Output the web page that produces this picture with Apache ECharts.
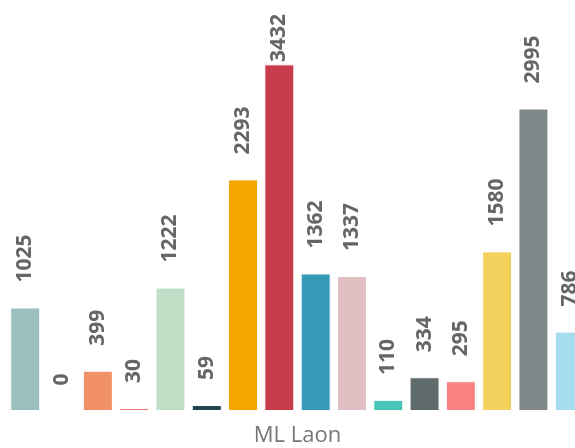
<!DOCTYPE html>
<html>
<head>
<meta charset="utf-8">
<script src="https://cdn.jsdelivr.net/npm/echarts@6/dist/echarts.min.js"></script>
<style>
html,body{margin:0;padding:0;background:#fff;}
#chart{width:575px;height:448px;}
</style>
</head>
<body>
<div id="chart"></div>
<script>
var categories = ['ML Laon'];
var seriesNames = ['S1','S2','S3','S4','S5','S6','S7','S8','S9','S10','S11','S12','S13','S14','S15','S16'];
var seriesValues = [1025, 0, 399, 30, 1222, 59, 2293, 3432, 1362, 1337, 110, 334, 295, 1580, 2995, 786];
var palette = ['#9bbfbf','#8fb8c8','#f29068','#f07878','#bfdfc7','#1f4650','#f5a500','#c93c4c','#369ab8','#e0bfc2','#48c5b8','#5f6a6a','#fc8181','#f4d05c','#808889','#a7dcee'];

var chart = echarts.init(document.getElementById('chart'));
var series = seriesValues.map(function (v, i) {
  return {
    name: seriesNames[i],
    type: 'bar',
    data: [v],
    barWidth: 30,
    barGap: '21%',
    itemStyle: { color: palette[i], borderColor: '#ffffff', borderWidth: 1 },
    label: {
      show: true,
      position: 'top',
      rotate: 90,
      align: 'left',
      verticalAlign: 'middle',
      distance: 25,
      fontFamily: 'Open Sans',
      fontSize: 21,
      fontWeight: 'bold',
      color: '#666666',
      textBorderColor: '#ffffff',
      textBorderWidth: 2
    },
    labelLayout: function (p) {
      var r = p.labelRect;
      if (r.y < 12) {
        return { y: 12 + r.height };
      }
      return {};
    }
  };
});
chart.setOption({
  animation: false,
  grid: { left: 0, width: 595, top: 7, bottom: 37, outerBoundsMode: 'none', containLabel: false },
  xAxis: {
    type: 'category',
    data: categories,
    axisLine: { show: false },
    axisTick: { show: false },
    axisLabel: { margin: 14, fontFamily: 'Open Sans', fontSize: 22, color: '#777777' }
  },
  yAxis: {
    type: 'value',
    min: 0,
    max: 4000,
    show: false,
    splitLine: { show: false }
  },
  series: series
});
</script>
</body>
</html>
